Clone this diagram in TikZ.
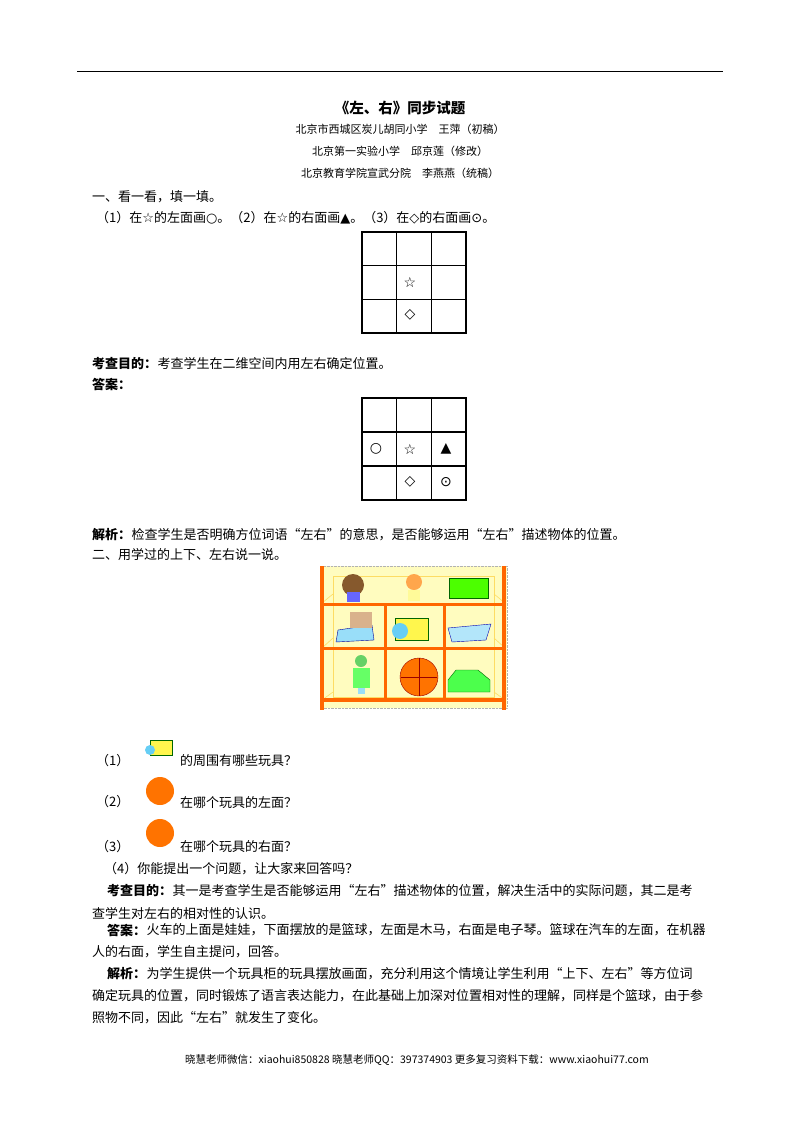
\documentclass[tikz,border=0pt]{standalone}
\usepackage{fontspec}
\setmainfont{Noto Sans CJK SC}
\newfontfamily\symf{DejaVu Sans}
\begin{document}
\begin{tikzpicture}[x=1pt,y=-1pt,
  tx/.style={anchor=west,inner sep=0pt,font=\fontsize{13}{14}\selectfont},
  bx/.style={anchor=west,inner sep=0pt,font=\fontsize{13}{14}\bfseries\selectfont},
  sm/.style={anchor=center,inner sep=0pt,font=\fontsize{11}{12}\selectfont},
  gl/.style={line width=1.2pt},
  sym/.style={inner sep=0pt,font=\symf\fontsize{14}{15}\selectfont}]
\useasboundingbox (0,0) rectangle (800,1132);
\fill[white] (0,0) rectangle (800,1132);
\draw[line width=0.8pt] (77,71) -- (723,71);
\node[inner sep=0pt,font=\fontsize{14.5}{16}\bfseries\selectfont] (title) at (400,108) {《左、右》同步试题};
\node[sm] (a1) at (400,129) {北京市西城区炭儿胡同小学\quad 王萍（初稿）};
\node[sm] (a2) at (400,151) {北京第一实验小学\quad 邱京莲（修改）};
\node[sm] (a3) at (400,173) {北京教育学院宣武分院\quad 李燕燕（统稿）};
\node[tx] (q1) at (92,197) {一、看一看，填一填。};
\node[tx] (q1a) at (96,218) {（1）在{\symf ☆}的左面画{\symf ○}。（2）在{\symf ☆}的右面画{\symf ▲}。（3）在{\symf ◇}的右面画{\symf ⊙}。};
% grid 1
\foreach \i in {1,2} {\draw[gl] (362+34.67*\i,232) -- (362+34.67*\i,333); \draw[gl] (362,232+33.67*\i) -- (466,232+33.67*\i);}
\draw[gl] (362,232) rectangle (466,333);
\node[sym] (s1) at (410,282) {☆};
\node[sym] (d1) at (410,315) {◇};
\node[bx] (m1) at (92,364) {考查目的：};
\node[tx] (m1b) at (m1.east) {考查学生在二维空间内用左右确定位置。};
\node[bx] (ans1) at (92,384) {答案：};
% grid 2
\foreach \i in {1,2} {\draw[gl] (362+34.67*\i,398) -- (362+34.67*\i,500); \draw[gl] (362,398+34*\i) -- (466,398+34*\i);}
\draw[gl] (362,398) rectangle (466,500);
\node[sym,font=\symf\bfseries\fontsize{14}{15}\selectfont] (o2) at (376,449) {○};
\node[sym] (s2) at (410,449) {☆};
\node[sym] (t2) at (446,449) {▲};
\node[sym] (d2) at (410,482) {◇};
\node[sym] (c2) at (446,482) {⊙};
\node[bx] (j1) at (92,535) {解析：};
\node[tx] (j1b) at (j1.east) {检查学生是否明确方位词语“左右”的意思，是否能够运用“左右”描述物体的位置。};
\node[tx] (q2) at (92,555) {二、用学过的上下、左右说一说。};
% shelf
\fill[yellow!25] (320,566) rectangle (507,708);
\draw[gray!60,densely dotted] (320,566) rectangle (507,708);
\draw[yellow!60!orange!60,line width=0.6pt] (333,576) rectangle (494,697);
\draw[yellow!60!orange!60,line width=0.6pt] (322,603) -- (333,594) (505,603) -- (494,594) (322,648) -- (333,638) (505,648) -- (494,638) (322,700) -- (333,692) (505,700) -- (494,692);
\foreach \x in {320,502} {\fill[orange!80!red] (\x,566) rectangle (\x+4,710);}
\foreach \y in {603,647} {\fill[orange!80!red] (322,\y) rectangle (505,\y+3);}
\fill[orange!80!red] (322,698) rectangle (505,702);
\foreach \x in {384,443} {\fill[orange!80!red] (\x,605) rectangle (\x+3,699);}
% toys
\fill[brown!70!black] (353,585) circle (11); \fill[blue!60] (347,592) rectangle (360,602);
\fill[orange!70] (414,582) circle (8); \fill[yellow!40!white] (408,590) rectangle (420,601);
\fill[green!60!lime,draw=green!40!black] (449,578) rectangle (488,598);
\fill[cyan!40,draw=blue!60!black] (338,630) -- (372,625) -- (374,640) -- (336,642) -- cycle;
\fill[brown!60] (350,612) rectangle (372,628);
\fill[yellow!70,draw=green!40!black] (395,618) rectangle (428,640); \fill[cyan!60] (400,631) circle (8);
\fill[cyan!30,draw=blue!70!black] (448,628) -- (491,624) -- (486,640) -- (452,642) -- cycle;
\fill[green!70!black!60] (361,661) circle (6); \fill[green!60] (353,668) rectangle (370,688); \fill[cyan!40] (358,688) rectangle (365,694);
\fill[orange!90!red,draw=red!60!black] (419,677) circle (19);
\draw[red!60!black] (401,677) -- (437,677) (419,658) -- (419,696);
\fill[green!70,draw=green!40!black] (448,680) -- (456,670) -- (478,670) -- (490,680) -- (490,692) -- (448,692) -- cycle;
% questions
\node[tx] (p1) at (96,761) {（1）};
\fill[yellow!70,draw=green!40!black] (150,740) rectangle (172,755); \fill[cyan!60] (150,750) circle (5);
\node[tx] (p1b) at (180,761) {的周围有哪些玩具？};
\node[tx] (p2) at (96,802) {（2）};
\fill[orange!90!red] (160,791) circle (14);
\node[tx] (p2b) at (180,803) {在哪个玩具的左面？};
\node[tx] (p3) at (96,847) {（3）};
\fill[orange!90!red] (160,833) circle (14);
\node[tx] (p3b) at (180,847) {在哪个玩具的右面？};
\node[tx] (p4) at (104,869) {（4）你能提出一个问题，让大家来回答吗？};
\node[bx] (k1) at (107,891) {考查目的：};
\node[tx] (k1b) at (k1.east) {其一是考查学生是否能够运用“左右”描述物体的位置，解决生活中的实际问题，其二是考};
\node[tx] (k2) at (92,913) {查学生对左右的相对性的认识。};
\node[bx] (d1a) at (107,930) {答案：};
\node[tx] (d1b) at (d1a.east) {火车的上面是娃娃，下面摆放的是篮球，左面是木马，右面是电子琴。篮球在汽车的左面，在机器};
\node[tx] (d2a) at (92,952) {人的右面，学生自主提问，回答。};
\node[bx] (e1) at (107,974) {解析：};
\node[tx] (e1b) at (e1.east) {为学生提供一个玩具柜的玩具摆放画面，充分利用这个情境让学生利用“上下、左右”等方位词};
\node[tx] (e2) at (92,996) {确定玩具的位置，同时锻炼了语言表达能力，在此基础上加深对位置相对性的理解，同样是个篮球，由于参};
\node[tx] (e3) at (92,1018) {照物不同，因此“左右”就发生了变化。};
\node[anchor=west,inner sep=0pt,font=\fontsize{10.5}{12}\selectfont] (foot) at (185,1060) {晓慧老师微信：xiaohui850828 晓慧老师QQ：397374903 更多复习资料下载：www.xiaohui77.com};
\end{tikzpicture}
\end{document}
